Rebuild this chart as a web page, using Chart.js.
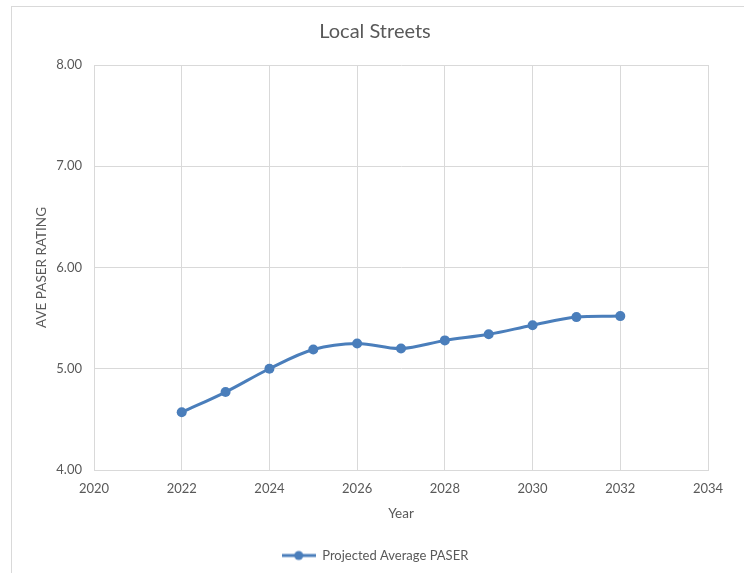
<!DOCTYPE html>
<html>
<head>
<meta charset="utf-8">
<script src="https://cdn.jsdelivr.net/npm/chart.js@4.4.1/dist/chart.umd.min.js"></script>
<style>
  html, body { margin: 0; padding: 0; background: #ffffff; }
  #wrap { position: relative; width: 744px; height: 573px; overflow: hidden; }
  #frame { position: absolute; left: 11px; top: 6px; width: 740px; height: 580px;
           border-left: 1px solid #d9d9d9; border-top: 1px solid #d9d9d9; box-sizing: border-box; }
  canvas { position: absolute; left: 0; top: 0; }
</style>
</head>
<body>
<div id="wrap">
  <div id="frame"></div>
  <canvas id="c" width="744" height="573"></canvas>
</div>
<script>
// Projected average PASER rating for local streets, by year
const years = [2022, 2023, 2024, 2025, 2026, 2027, 2028, 2029, 2030, 2031, 2032];
const paser = [4.57, 4.77, 5.00, 5.19, 5.25, 5.20, 5.28, 5.34, 5.43, 5.51, 5.52];
const seriesName = 'Projected Average PASER';
const xTicks = [2020, 2022, 2024, 2026, 2028, 2030, 2032, 2034];
const yTicks = [4, 5, 6, 7, 8];

const BLUE = '#4a7ebb';
const GRID = '#d9d9d9';
const TEXT = '#595959';
const FONT = 'Lato, "Open Sans", sans-serif';

// legend marker: short line with a dot in the middle
const marker = document.createElement('canvas');
marker.width = 34; marker.height = 12;
(function () {
  const g = marker.getContext('2d');
  g.strokeStyle = BLUE; g.lineWidth = 3;
  g.beginPath(); g.moveTo(0, 6); g.lineTo(34, 6); g.stroke();
  g.fillStyle = BLUE;
  g.beginPath(); g.arc(17, 6, 4.5, 0, Math.PI * 2); g.fill();
})();

new Chart(document.getElementById('c'), {
  type: 'line',
  data: {
    datasets: [{
      label: seriesName,
      data: years.map((y, i) => ({ x: y, y: paser[i] })),
      borderColor: BLUE,
      backgroundColor: BLUE,
      borderWidth: 3,
      pointRadius: 5,
      pointHoverRadius: 5,
      pointBackgroundColor: BLUE,
      pointBorderWidth: 0,
      tension: 0.35,
      fill: false
    }]
  },
  options: {
    responsive: false,
    animation: false,
    devicePixelRatio: 1,
    layout: { padding: { top: 6, left: 12, right: 6, bottom: 1 } },
    plugins: {
      title: {
        display: true,
        text: 'Local Streets',
        color: TEXT,
        font: { family: FONT, size: 20, weight: 'normal' },
        padding: { top: 14, bottom: 21 }
      },
      legend: {
        position: 'bottom',
        labels: {
          color: TEXT,
          font: { family: FONT, size: 13 },
          usePointStyle: true,
          pointStyle: marker,
          pointStyleWidth: 34,
          boxHeight: 12,
          padding: 10
        }
      },
      tooltip: { enabled: false }
    },
    scales: {
      x: {
        type: 'linear',
        min: xTicks[0],
        max: xTicks[xTicks.length - 1],
        afterBuildTicks: s => { s.ticks = xTicks.map(v => ({ value: v })); },
        ticks: { color: TEXT, font: { family: FONT, size: 13 }, padding: 11, maxRotation: 0,
                 callback: v => String(v) },
        grid: { color: GRID, drawTicks: false },
        border: { color: GRID },
        title: { display: true, text: 'Year', color: TEXT, font: { family: FONT, size: 13.5 },
                 padding: { top: 0, bottom: 17 } },
        afterFit: s => { s.height = 69; }
      },
      y: {
        min: yTicks[0],
        max: yTicks[yTicks.length - 1],
        afterBuildTicks: s => { s.ticks = yTicks.map(v => ({ value: v })); },
        ticks: { color: TEXT, font: { family: FONT, size: 13 }, padding: 12,
                 callback: v => Number(v).toFixed(2) },
        grid: { color: GRID, drawTicks: false },
        border: { color: GRID },
        title: { display: true, text: 'AVE PASER RATING', color: TEXT, font: { family: FONT, size: 13.5 },
                 padding: { top: 22, bottom: 0 } },
        afterFit: s => { s.width = 82; }
      },
      // empty right-hand margin axis keeping the plot clear of the frame edge
      yRight: {
        position: 'right',
        min: yTicks[0],
        max: yTicks[yTicks.length - 1],
        ticks: { display: false },
        grid: { display: false, drawTicks: false },
        border: { display: false },
        afterFit: s => { s.width = 30; }
      }
    }
  }
});
</script>
</body>
</html>
